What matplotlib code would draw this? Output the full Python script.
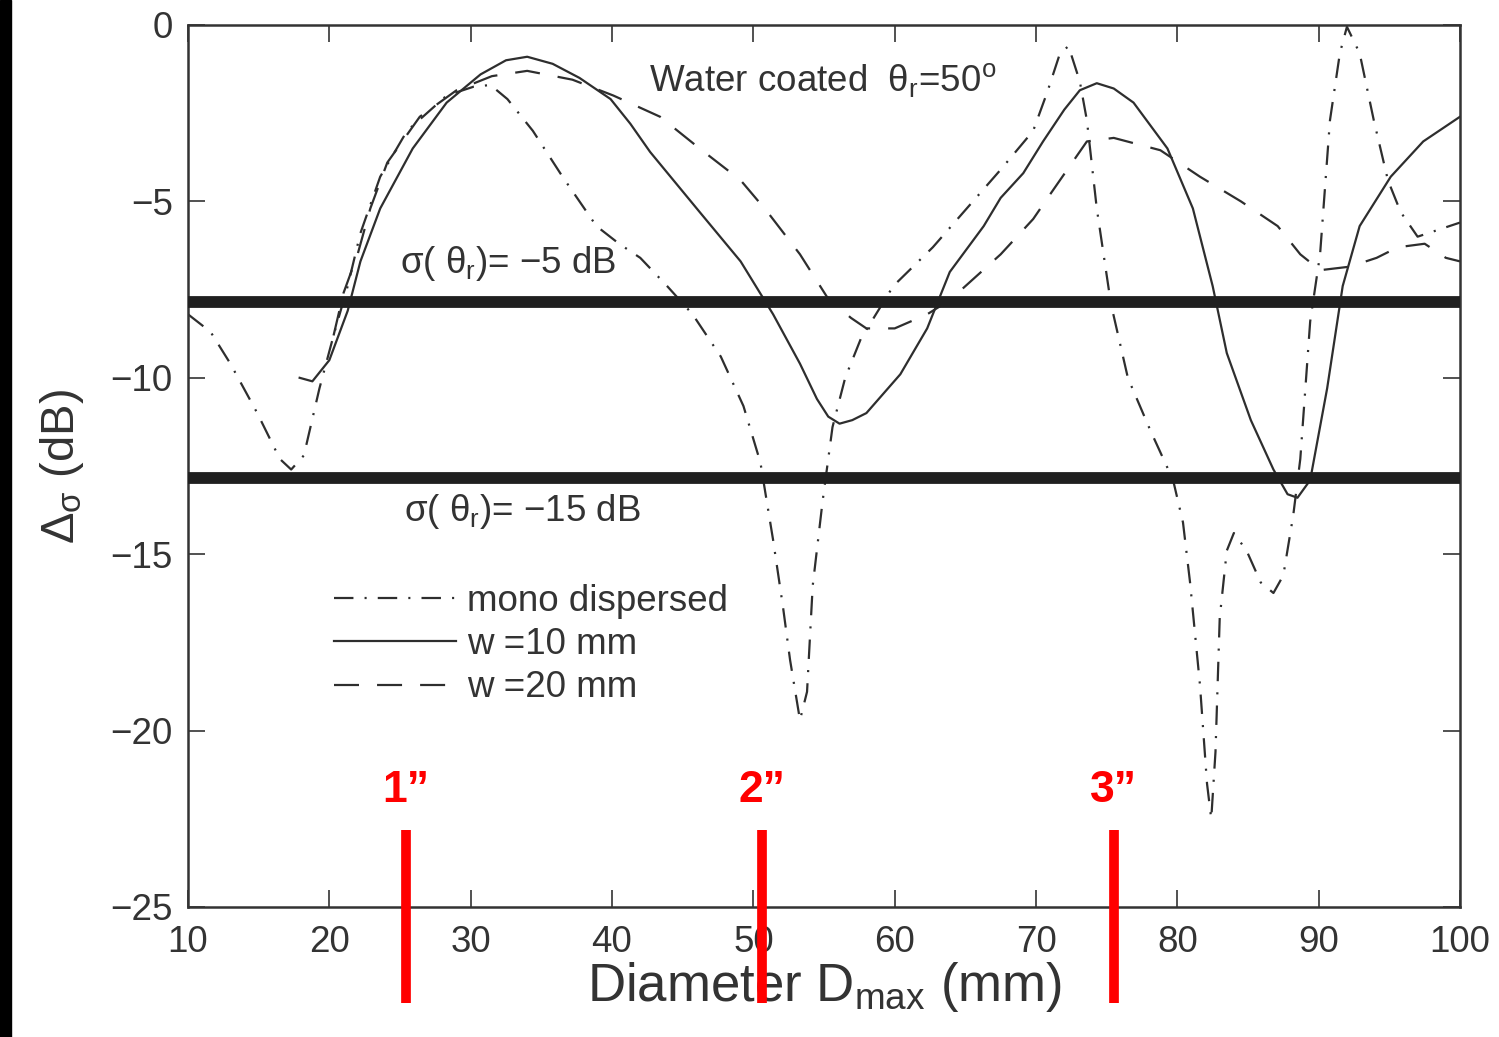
import matplotlib
matplotlib.use('Agg')
import matplotlib.pyplot as plt
from matplotlib.patches import Rectangle

# global plot settings
plt.rcParams['font.family'] = ['Liberation Sans', 'DejaVu Sans']
plt.rcParams['mathtext.fontset'] = 'custom'
plt.rcParams['mathtext.rm'] = 'Liberation Sans'
plt.rcParams['mathtext.it'] = 'Liberation Sans'
plt.rcParams['mathtext.default'] = 'regular'
plt.rcParams['lines.scale_dashes'] = False
plt.rcParams['axes.unicode_minus'] = True

linecolor = '#2e2e2e'
textcolor = '#333333'
fontsize = 26.5

# mono dispersed (dash-dot)
mono_x = [10, 11.6, 13.0, 14.9, 16.5, 17.3, 18.2, 19.3, 20.3, 21.3, 22.2, 23.6, 25.5,
          28.3, 30.2, 31.4, 32.6, 34.4, 36.5, 38.9, 40.5, 42.0, 43.9, 45.7, 47.7,
          49.3, 50.5, 51.4, 52.1, 52.6, 53.3, 53.8, 54.2, 54.9, 55.6, 56.5, 57.6,
          59.9, 62.7, 65.1, 67.5, 69.8, 70.8, 71.7, 72.3, 73.1, 73.6, 74.3, 75.3,
          76.5, 78.1, 79.7, 80.4, 80.9, 81.6, 82.1, 82.4, 82.7, 83.0, 83.5, 84.0,
          84.9, 85.9, 86.8, 87.5, 88.2, 88.7, 89.4, 90.1, 90.8, 91.5, 92.0, 92.9,
          93.9, 94.9, 95.8, 97.0, 98.5, 100]
mono_y = [-8.2, -8.7, -9.6, -11.0, -12.3, -12.6, -12.2, -10.3, -8.8, -7.4, -5.9, -4.3, -3.0,
          -2.0, -1.75, -1.7, -2.1, -3.0, -4.3, -5.7, -6.2, -6.6, -7.4, -8.2, -9.4,
          -10.8, -12.4, -14.6, -16.5, -18.0, -19.7, -18.9, -15.9, -13.5, -11.4, -10.0, -8.9,
          -7.4, -6.3, -5.2, -4.1, -3.0, -1.9, -0.8, -0.6, -1.6, -2.7, -5.2, -7.9,
          -10.0, -11.5, -12.9, -14.1, -15.8, -18.7, -21.5, -22.5, -20.6, -16.8, -14.9, -14.4,
          -14.9, -15.8, -16.1, -15.6, -13.9, -12.3, -8.4, -6.5, -2.7, -0.8, -0.05, -0.8,
          -2.7, -4.4, -5.3, -6.0, -5.8, -5.6]

# w = 10 mm (solid)
w10_x = [17.9, 18.8, 20.0, 21.3, 22.2, 23.6, 25.9, 28.3, 30.7, 32.5, 34.0, 35.8, 37.7,
         39.9, 41.3, 42.7, 46.2, 49.1, 51.4, 53.3, 54.5, 55.3, 56.1, 57.0, 58.0,
         60.4, 62.3, 63.9, 66.3, 67.5, 69.1, 70.5, 72.0, 73.1, 74.3, 75.5, 76.9,
         79.3, 81.1, 82.5, 83.5, 85.2, 86.8, 87.8, 88.5, 89.4, 90.6, 91.7, 92.9,
         95.1, 97.4, 100]
w10_y = [-10.0, -10.1, -9.5, -8.1, -6.7, -5.2, -3.5, -2.2, -1.4, -1.0, -0.9, -1.1, -1.5,
         -2.1, -2.8, -3.6, -5.3, -6.7, -8.2, -9.6, -10.6, -11.1, -11.3, -11.2, -11.0,
         -9.9, -8.6, -7.0, -5.7, -4.9, -4.2, -3.3, -2.4, -1.85, -1.65, -1.8, -2.2,
         -3.5, -5.2, -7.4, -9.3, -11.2, -12.6, -13.3, -13.4, -12.9, -10.3, -7.4, -5.7,
         -4.3, -3.3, -2.6]

# w = 20 mm (dashed)
w20_x = [20.3, 21.0, 22.0, 22.9, 24.1, 26.4, 29.0, 31.5, 34.0, 37.2, 40.1, 43.4, 46.2,
         49.1, 51.0, 53.3, 55.2, 56.9, 58.0, 60.0, 62.3, 63.9, 67.5, 69.8, 71.0,
         73.6, 75.5, 78.8, 81.6, 84.5, 87.1, 88.7, 90.1, 92.2, 94.1, 95.6, 97.5,
         99.0, 100]
w20_y = [-8.8, -7.6, -6.5, -5.2, -3.9, -2.6, -1.85, -1.45, -1.3, -1.55, -2.0, -2.6, -3.5,
         -4.4, -5.3, -6.5, -7.7, -8.3, -8.6, -8.6, -8.2, -7.8, -6.5, -5.5, -4.8,
         -3.3, -3.2, -3.55, -4.3, -5.0, -5.7, -6.5, -6.95, -6.85, -6.6, -6.3, -6.2,
         -6.6, -6.7]

# threshold lines sigma(theta_r) = -5 dB / -15 dB
thresh_y = [-7.85, -12.85]
thresh_labels = [r'σ( θ$_r$)= −5 dB', r'σ( θ$_r$)= −15 dB']

# inch markers
inch_x = [25.4, 50.6, 75.5]
inch_labels = ['1\u201d', '2\u201d', '3\u201d']


fig = plt.figure(figsize=(14.99, 10.37), dpi=100)
ax = fig.add_axes([188/1499, 1-907/1037, (1460-188)/1499, (907-25)/1037])

# black strip on the left edge
fig.patches.append(Rectangle((0, 0), 11/1499, 1, transform=fig.transFigure,
                             color='black', zorder=0))

ax.plot(mono_x, mono_y, color=linecolor, lw=1.6, dashes=(14, 8, 1.5, 8),
        label='mono dispersed')
ax.plot(w10_x, w10_y, color=linecolor, lw=1.6, label='w =10 mm')
ax.plot(w20_x, w20_y, color=linecolor, lw=1.6, dashes=(18, 13),
        label='w =20 mm')

for y in thresh_y:
    ax.axhline(y, color='#202020', lw=8.5, zorder=3)

ax.text(25.0, -6.75, thresh_labels[0], fontsize=fontsize, color=textcolor, va='center')
ax.text(25.3, -13.8, thresh_labels[1], fontsize=fontsize, color=textcolor, va='center')
ax.text(42.6, -1.55, r'Water coated  θ$_r$=50$^o$', fontsize=fontsize,
        color=textcolor, va='center')

for x, lab in zip(inch_x, inch_labels):
    ax.plot([x, x], [-22.82, -27.72], color='red', lw=7, clip_on=False,
            solid_capstyle='butt', zorder=5)
    ax.text(x, -21.7, lab, color='red', fontsize=32, fontweight='bold',
            ha='center', va='center')

ax.set_xlim(10, 100)
ax.set_ylim(-25, 0)
ax.set_xticks(range(10, 101, 10))
ax.set_yticks([-25, -20, -15, -10, -5, 0])
ax.tick_params(direction='in', length=12, width=1.2, top=True, right=True,
               labelsize=fontsize, colors=textcolor)
ax.tick_params(axis='x', pad=13)
ax.tick_params(axis='y', pad=11)
for s in ax.spines.values():
    s.set_color(textcolor)
    s.set_linewidth(1.8)

ax.set_xlabel(r'Diameter D$_{max}$ (mm)', fontsize=38, color=textcolor)
ax.set_ylabel(r'Δ$_σ$ (dB)', fontsize=34, color=textcolor)
ax.xaxis.set_label_coords(0.5, -0.06)
ax.yaxis.set_label_coords(-0.08, 0.5)

ax.legend(loc='upper left', bbox_to_anchor=(0.115, 0.366), frameon=False,
          fontsize=fontsize, handlelength=3.3, handletextpad=0.3,
          labelspacing=0.22, borderpad=0, borderaxespad=0, labelcolor=textcolor)

fig.savefig('out.png', dpi=100)
